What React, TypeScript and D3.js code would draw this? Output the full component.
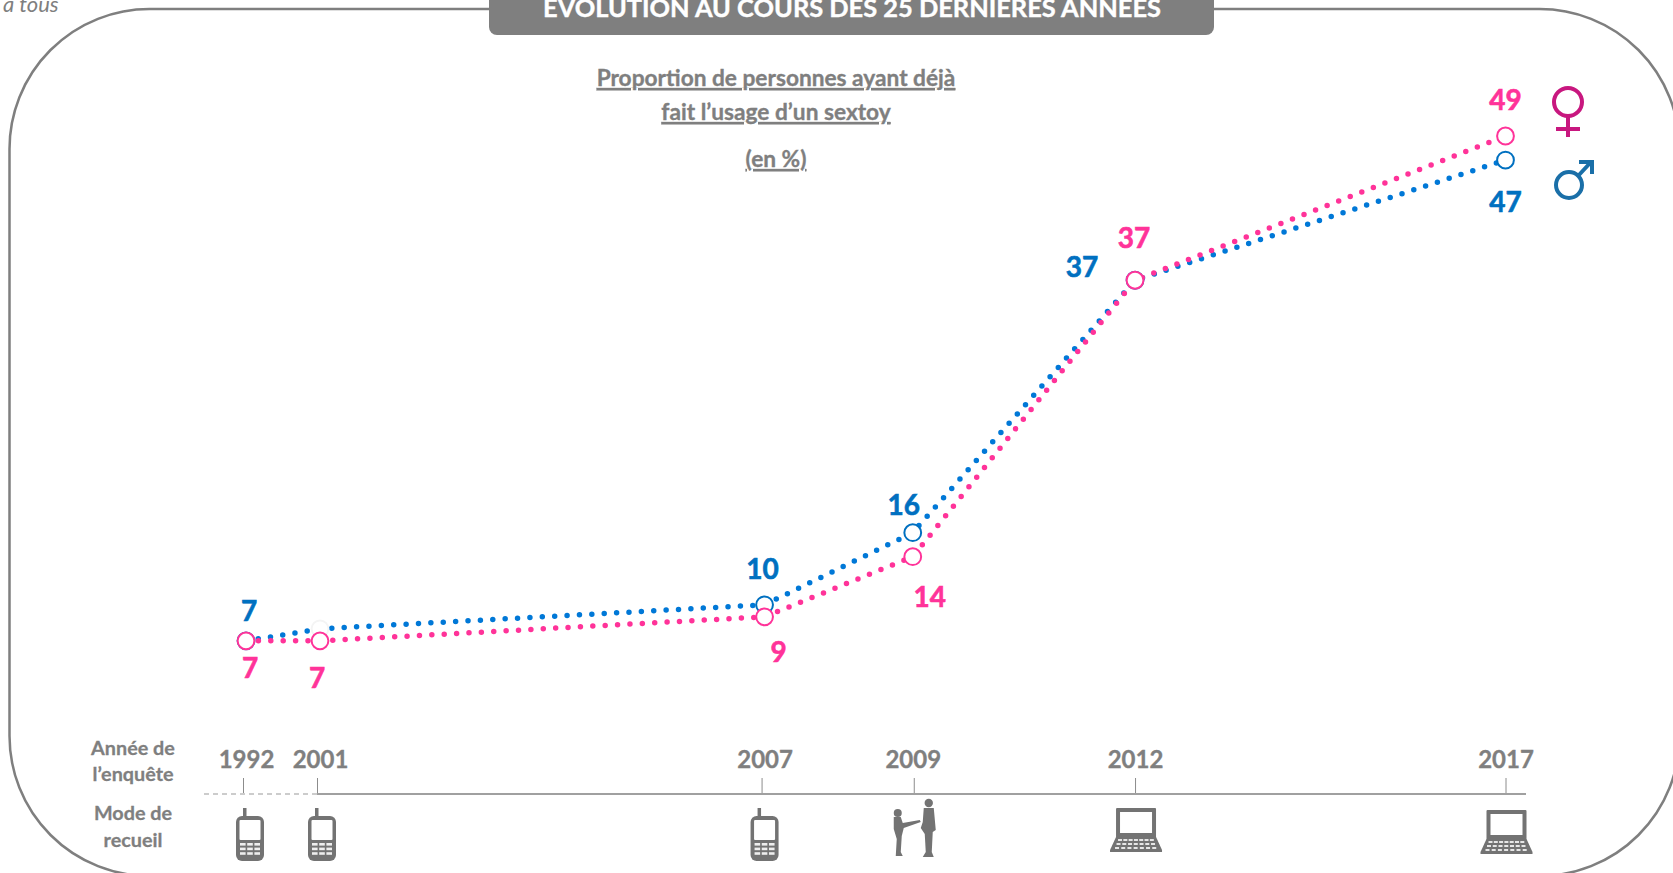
import React, { useEffect, useRef } from "react";
import * as d3 from "d3";

const years = [1992, 2001, 2007, 2009, 2012, 2017];
const women = [7, 7, 9, 14, 37, 49];
const men = [7, 8, 10, 16, 37, 47];
const menLabels = [7, null, 10, 16, 37, 47];
const modes = ["phone", "phone", "phone", "face", "web", "web"];

const GREY = "#7f7f7f";
const PINK = "#ff3399";
const BLUE = "#0070c0";
const FONT = "Lato, 'Open Sans', sans-serif";

// label offset from its point
const womenOffsets = [[4, 27], [-3, 37], [14, 35], [17, 40], [-1, -42], [0, -36]];
const menOffsets = [[3, -30], [0, 0], [-2, -36], [-9, -27], [-53, -13], [0, 42]];
// small shifts of ticks and icons against the points
const tickShift = [-3, -3, -3, 1, 0, 0];
const iconShift = [4, 2, 0, 1, 1, 1];

const App: React.FC = () => {
  const svgRef = useRef<SVGSVGElement | null>(null);

  useEffect(() => {
    if (!svgRef.current) return;
    const svg = d3.select(svgRef.current);
    svg.selectAll("*").remove();

    // the axis is broken between 1992 and 2001
    const x = d3.scaleLinear().domain([1992, 2001, 2017]).range([246, 320, 1505.5]);
    const y = d3.scaleLinear().domain([0, 50]).range([725, 124]);
    const axisY = 794;

    const defs = svg.append("defs");
    defs.append("filter").attr("id", "soft").append("feGaussianBlur").attr("stdDeviation", 0.6);

    // cadre
    svg.append("rect")
      .attr("x", 9.5).attr("y", 9).attr("width", 1670).attr("height", 867).attr("rx", 140)
      .attr("fill", "none").attr("stroke", GREY).attr("stroke-width", 2.5);

    svg.append("text").attr("x", 3).attr("y", 12)
      .attr("font-family", FONT).attr("font-style", "italic").attr("font-size", 22).attr("fill", GREY)
      .text("à tous");

    // bandeau titre
    svg.append("path")
      .attr("d", "M489,-10H1214V27a8,8 0 0 1 -8,8H497a8,8 0 0 1 -8,-8Z")
      .attr("fill", GREY);
    svg.append("text").attr("x", 852).attr("y", 17).attr("text-anchor", "middle")
      .attr("font-family", FONT).attr("font-weight", 700).attr("font-size", 25.4).attr("fill", "#fff")
      .attr("stroke", "#fff").attr("stroke-width", 0.4)
      .text("EVOLUTION AU COURS DES 25 DERNIÈRES ANNÉES");

    const subtitle = [
      { t: "Proportion de personnes ayant déjà", y: 86 },
      { t: "fait l’usage d’un sextoy", y: 120 },
      { t: "(en %)", y: 167 },
    ];
    svg.selectAll(".sub").data(subtitle).enter().append("text")
      .attr("class", "sub")
      .attr("x", 776).attr("y", (d) => d.y).attr("text-anchor", "middle")
      .attr("font-family", FONT).attr("font-weight", 700).attr("font-size", 22.7).attr("fill", GREY)
      .attr("stroke", GREY).attr("stroke-width", 0.35)
      .attr("text-decoration", "underline")
      .text((d) => d.t);

    // axe
    svg.append("line").attr("x1", 204).attr("x2", x(2001) - 3).attr("y1", axisY).attr("y2", axisY)
      .attr("stroke", "#999").attr("stroke-width", 1.2).attr("stroke-dasharray", "5 4");
    svg.append("line").attr("x1", x(2001) - 3).attr("x2", 1526).attr("y1", axisY).attr("y2", axisY)
      .attr("stroke", "#a0a0a0").attr("stroke-width", 2);

    const axis = svg.append("g").attr("transform", `translate(0,${axisY - 1})`)
      .call(d3.axisTop(x).tickValues(years).tickFormat(d3.format("d")).tickSize(15).tickPadding(10));
    axis.select(".domain").remove();
    axis.selectAll("line")
      .attr("stroke", "#8c8c8c")
      .attr("transform", (_, i) => `translate(${tickShift[i]},0)`);
    axis.selectAll("text")
      .attr("font-family", FONT).attr("font-weight", 700).attr("font-size", 24).attr("fill", GREY)
      .attr("stroke", GREY).attr("stroke-width", 0.35);

    const side = [
      { t: "Année de", y: 755 },
      { t: "l’enquête", y: 781 },
      { t: "Mode de", y: 820 },
      { t: "recueil", y: 847 },
    ];
    svg.selectAll(".side").data(side).enter().append("text")
      .attr("class", "side")
      .attr("x", 133).attr("y", (d) => d.y).attr("text-anchor", "middle")
      .attr("font-family", FONT).attr("font-weight", 700).attr("font-size", 19.8).attr("fill", GREY)
      .attr("stroke", GREY).attr("stroke-width", 0.3)
      .text((d) => d.t);

    // pictos mode de recueil
    const icons = svg.append("g").attr("filter", "url(#soft)");
    const ICON = "#737373";
    modes.forEach((mode, i) => {
      const g = icons.append("g").attr("transform", `translate(${x(years[i]) + iconShift[i]},834)`);
      if (mode === "phone") {
        g.append("rect").attr("x", -7).attr("y", -26).attr("width", 3.5).attr("height", 10).attr("fill", ICON);
        g.append("rect").attr("x", -14).attr("y", -18).attr("width", 28).attr("height", 45).attr("rx", 6).attr("fill", ICON);
        g.append("rect").attr("x", -10.5).attr("y", -14).attr("width", 21).attr("height", 20).attr("rx", 1).attr("fill", "#fff");
        d3.range(3).forEach((r) => d3.range(3).forEach((c) => {
          g.append("rect").attr("x", -10 + c * 7.2).attr("y", 9 + r * 4.6).attr("width", 5.6).attr("height", 2.6).attr("fill", "#eee");
        }));
      } else if (mode === "web") {
        g.attr("transform", `translate(${x(years[i]) + iconShift[i]},${i === 4 ? 830 : 832})`);
        g.append("rect").attr("x", -20).attr("y", -22).attr("width", 40).attr("height", 30).attr("rx", 1).attr("fill", ICON);
        g.append("rect").attr("x", -16).attr("y", -18).attr("width", 32).attr("height", 21).attr("fill", "#fff");
        g.append("path").attr("d", "M-20,7H20L26,20V22H-26V20Z").attr("fill", ICON);
        d3.range(3).forEach((r) => d3.range(7).forEach((c) => {
          g.append("rect").attr("x", -18 - r * 1.5 + c * (5.3 + r * 0.45)).attr("y", 9 + r * 4).attr("width", 4).attr("height", 2).attr("fill", "#e6e6e6");
        }));
      } else {
        // deux silhouettes
        g.append("circle").attr("cx", -16).attr("cy", -21).attr("r", 4).attr("fill", ICON);
        g.append("path").attr("d", "M-20,-17H-13L-11,-11L6,-14L7,-12L-10,-6L-12,2L-13,18L-11,22H-18L-17,5L-20,-5Z").attr("fill", ICON);
        g.append("circle").attr("cx", 15).attr("cy", -31).attr("r", 4.2).attr("fill", ICON);
        g.append("path").attr("d", "M10,-26H20L22,-4L19,-2L18,18L20,23H9L12,18L11,0L7,-6L9,-12Z").attr("fill", ICON);
      }
    });

    // courbes pointillées
    const line = d3.line<number>().x((_, i) => x(years[i])).y((d) => y(d));
    const drawSerie = (values: number[], stroke: string, colour: string, hidden: number[]) => {
      svg.append("path").datum(values)
        .attr("d", line)
        .attr("fill", "none").attr("stroke", stroke)
        .attr("stroke-width", 5.5).attr("stroke-linecap", "round")
        .attr("stroke-dasharray", "0 12.4");
      svg.append("g").selectAll("circle").data(values).enter().append("circle")
        .attr("cx", (_, i) => x(years[i])).attr("cy", (d) => y(d)).attr("r", 8.4)
        // le point 2001 hommes n'est pas visible sur l'original
        .attr("fill", "#fff").attr("stroke", (_, i) => (hidden.includes(i) ? "#f4f4f4" : colour))
        .attr("stroke-width", 2);
    };
    drawSerie(men, "#0078d7", BLUE, [1]);
    drawSerie(women, PINK, PINK, []);

    const labels = (vals: (number | null)[], offs: number[][], colour: string, base: number[]) => {
      svg.append("g").selectAll("text")
        .data(vals.map((v, i) => ({ v, i })).filter((d) => d.v !== null))
        .enter().append("text")
        .attr("x", (d) => x(years[d.i]) + offs[d.i][0])
        .attr("y", (d) => y(base[d.i]) + offs[d.i][1])
        .attr("dy", "0.35em").attr("text-anchor", "middle")
        .attr("font-family", FONT).attr("font-weight", 700).attr("font-size", 28).attr("fill", colour)
        .attr("stroke", colour).attr("stroke-width", 0.6)
        .text((d) => String(d.v));
    };
    labels(menLabels, menOffsets, BLUE, men);
    labels(women, womenOffsets, PINK, women);

    // symboles femme / homme
    const sym = svg.append("g").attr("fill", "none").attr("stroke-width", 4);
    const f = sym.append("g").attr("transform", `translate(1568,102)`).attr("stroke", "#c8177f");
    f.append("circle").attr("r", 14);
    f.append("path").attr("d", "M0,14V35M-12,27H12");
    const m = sym.append("g").attr("transform", `translate(1569,185)`).attr("stroke", "#1a6fa8");
    m.append("circle").attr("r", 13);
    m.append("path").attr("d", "M9,-9L22,-23M10,-23H23V-11");
  }, []);

  return (
    <svg
      ref={svgRef}
      width={1673}
      height={873}
      style={{ position: "fixed", left: 0, top: 0, background: "#fff" }}
    />
  );
};

export default App;
